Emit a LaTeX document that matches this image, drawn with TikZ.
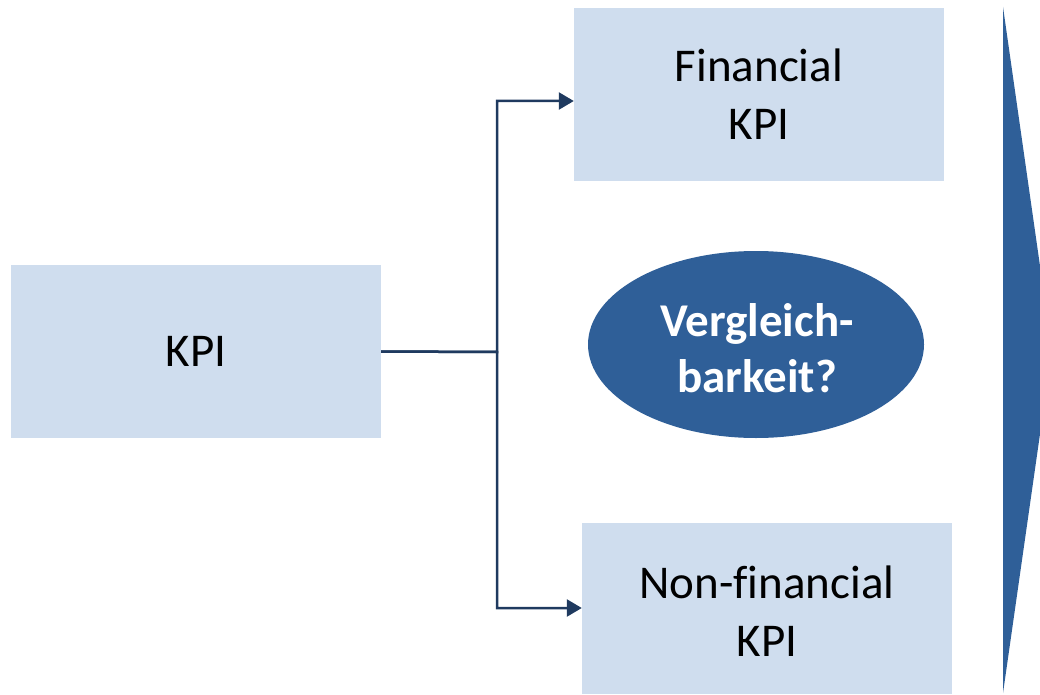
\documentclass[tikz,border=0pt]{standalone}
\usepackage{fontspec}
\setmainfont[Ligatures=NoCommon]{Carlito}
\usetikzlibrary{shapes.geometric,arrows.meta}
\definecolor{boxfill}{HTML}{CFDDEE}
\definecolor{linecol}{HTML}{1F3A5F}
\definecolor{darkblue}{HTML}{2F5F98}
\tikzset{
  kpibox/.style={fill=boxfill, draw=none, minimum width=370pt, minimum height=173pt, inner sep=0pt, align=center, font=\fontsize{47}{58}\selectfont},
  conn/.style={draw=linecol, line width=2.5pt, -{Triangle[length=15pt,width=17pt]}},
}
\begin{document}
\begin{tikzpicture}[x=1pt,y=-1pt]
\useasboundingbox (0,0) rectangle (1040,695);
\node[kpibox] (kpi) at (196,351.5) {KPI};
\node[kpibox] (fin) at (759,94.5) {Financial\\KPI};
\node[kpibox, minimum height=171pt] (nonfin) at (767,608.5) {};
\node[align=center, inner sep=0pt, font=\fontsize{47}{58}\selectfont] (nonfintext) at (767,611) {Non-financial\\KPI};
\node[ellipse, fill=darkblue, draw=none, minimum width=336pt, minimum height=187pt, inner sep=0pt] (cmp) at (756,344.5) {};
\node[align=center, inner sep=0pt, text=white, font=\bfseries\fontsize{47}{56}\selectfont] (cmptext) at (757,348) {Vergleich-\\barkeit?};
\coordinate (split) at (497,352);
\draw[conn] (kpi.east) -- (split) |- (fin.west |- 0,101);
\draw[conn] (kpi.east) -- (split) |- (nonfin.west |- 0,608);
\begin{scope}
\clip (0,0) rectangle (1040,695);
\fill[darkblue] (1003,7) coordinate (t1) -- (1052,350) coordinate (tip) -- (1003,693) coordinate (t2) -- cycle;
\end{scope}
\end{tikzpicture}
\end{document}
